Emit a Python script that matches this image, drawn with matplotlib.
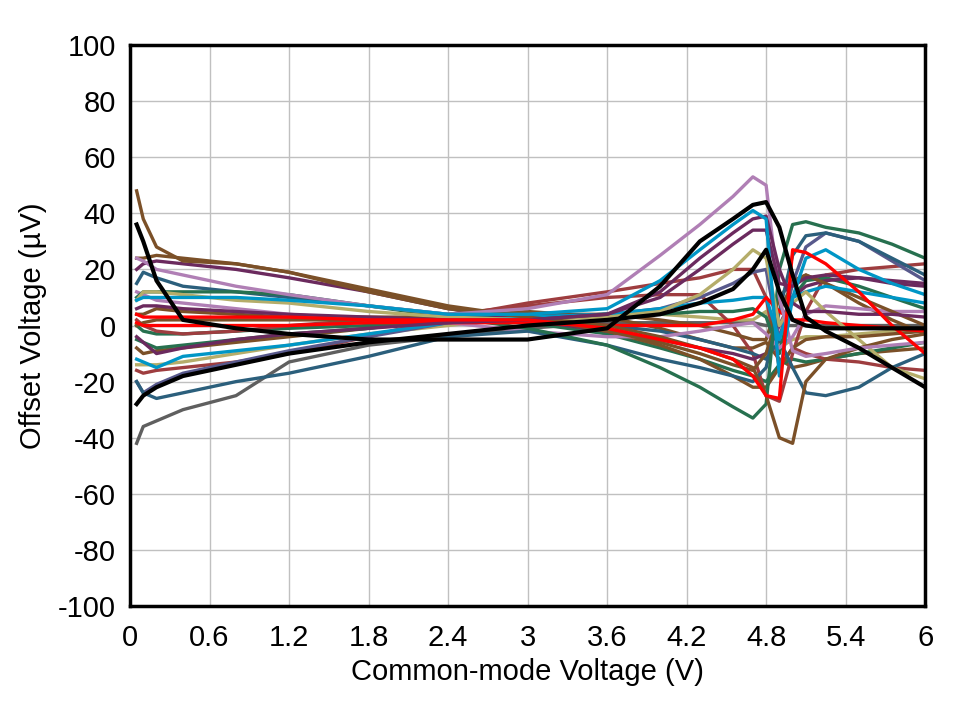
import matplotlib.pyplot as plt

plt.rcParams['font.family'] = ['Liberation Sans', 'DejaVu Sans']
plt.rcParams['axes.unicode_minus'] = False

# common-mode voltage sample points (V)
vcm = [0.05, 0.1, 0.2, 0.4, 0.8, 1.2, 1.8, 2.4, 3.0, 3.6, 4.0, 4.3, 4.55, 4.7, 4.8, 4.9, 5.0, 5.1, 5.25, 5.5, 5.75, 6.0]

# offset voltage curves (uV)
pink_a   = [24, 23, 20, 18, 14, 11, 7, 4, 6, 11, 25, 36, 46, 53, 50, 10, -9, -11, -10, -8, -7, -6]
pink_b   = [12, 11, 9, 8, 6, 4, 2, 1, -2, -4, -4, -2, 0, 1, -3, -8, -4, 4, 7, 6, 5, 5]
purple_a = [20, 22, 23, 22, 20, 17, 12, 6, 2, -2, -5, -8, -10, -12, -10, 0, 10, 14, 16, 17, 16, 15]
purple_b = [-4, -6, -10, -8, -5, -3, -1, 1, 2, 4, 12, 24, 33, 38, 39, 20, 8, 5, 5, 4, 4, 3]
purple_c = [6, 7, 7, 6, 5, 4, 3, 2, 2, 4, 10, 20, 29, 34, 34, 15, 14, 17, 18, 17, 15, 14]
blue_a   = [9, 10, 10, 10, 10, 9, 7, 4, 4, 6, 16, 27, 36, 41, 38, -18, 10, 24, 27, 20, 15, 11]
blue_b   = [-12, -13, -15, -11, -9, -7, -3, 1, 3, 4, 6, 8, 9, 10, 10, -5, 10, 12, 14, 12, 10, 8]
teal_a   = [-20, -24, -26, -24, -20, -17, -11, -4, -2, -7, -12, -15, -18, -20, -15, 5, 25, 32, 33, 30, 24, 18]
teal_b   = [15, 19, 17, 14, 12, 10, 7, 4, 2, 0, -2, -5, -8, -10, -12, -5, -15, -24, -25, -22, -15, -10]
green_a  = [10, 12, 12, 12, 12, 11, 7, 3, -1, -7, -15, -22, -29, -33, -28, 20, 36, 37, 35, 33, 29, 24]
green_b  = [-5, -6, -8, -7, -5, -3, -1, 2, 3, 4, 4, 5, 5, 6, 3, -10, 10, 16, 17, 14, 10, 6]
green_c  = [0, -2, -3, -3, -2, -1, 0, 2, 1, -3, -8, -12, -16, -18, -20, -14, -12, -13, -12, -10, -8, -6]
brown_a  = [48, 38, 28, 23, 22, 19, 12, 6, 3, 0, -4, -8, -12, -15, -25, -40, -42, -20, -12, -8, -5, -3]
brown_b  = [24, 24, 25, 24, 22, 19, 13, 7, 3, -2, -6, -10, -14, -16, -10, 5, 15, 18, 15, 10, 5, 0]
brown_c  = [4, 4, 6, 5, 4, 3, 3, 3, 2, -2, -7, -12, -18, -22, -22, -15, -8, -5, -4, -4, -3, -2]
brown_d  = [-8, -10, -9, -8, -6, -4, -1, 3, 5, 3, -1, -5, -8, -8, -6, -12, -15, -14, -12, -10, -9, -8]
brown_e  = [0, 1, 2, 2, 2, 2, 2, 3, 4, 4, 2, 0, -3, -5, -5, 10, 16, 18, 15, 8, 2, -3]
maroon_a = [-16, -17, -16, -15, -13, -10, -4, 3, 8, 12, 15, 17, 20, 20, 10, -15, -8, -10, -12, -13, -15, -16]
maroon_b = [2, 0, -2, -3, -2, 0, 2, 4, 7, 10, 11, 11, 0, -10, -25, -27, -10, 5, 18, 20, 21, 22]
red_a    = [4, 3, 3, 3, 3, 3, 2, 2, 2, -1, -5, -8, -12, -18, -25, -26, 27, 26, 22, 12, 0, -10]
red_b    = [1, 0, 0, 0, 0, 0, 1, 1, 1, 0, 0, 0, 2, 4, 10, 5, 2, 2, 1, 0, -1, -2]
olive_a  = [9, 12, 12, 11, 9, 8, 5, 3, 2, 3, 5, 11, 20, 27, 24, 0, 8, 12, 5, -5, -15, -19]
olive_b  = [-14, -14, -14, -13, -10, -7, -3, 0, 3, 4, 4, 3, 2, 2, 5, -8, -5, -4, -4, -3, -2, -1]
gray_a   = [-42, -36, -34, -30, -25, -13, -7, -4, -1, 1, 1, 1, 1, 1, 0, 0, 0, 0, 0, 0, 0, 0]
slate_a  = [-20, -24, -21, -17, -13, -9, -4, 1, 3, 4, 6, 10, 15, 19, 20, -5, 15, 28, 33, 30, 23, 16]
black_b  = [-28, -25, -22, -18, -14, -10, -6, -3, 0, 2, 4, 8, 13, 20, 27, 12, 2, 0, -1, -1, -1, -1]
black_a  = [36, 30, 16, 2, -1, -3, -5, -5, -5, -1, 14, 30, 38, 43, 44, 35, 18, 3, -2, -8, -15, -22]

curves = [
    (gray_a, '#5f5f5f'), (olive_b, '#b5ad6a'), (brown_d, '#7b5028'), (green_c, '#27704f'),
    (maroon_a, '#9e3d3f'), (maroon_b, '#9e3d3f'), (brown_c, '#7b5028'), (brown_e, '#7b5028'),
    (teal_b, '#2b5f7c'), (green_b, '#27704f'), (pink_b, '#b07fb5'), (purple_a, '#6b2a5e'),
    (brown_b, '#7b5028'), (slate_a, '#58598c'), (teal_a, '#2b5f7c'), (green_a, '#27704f'),
    (blue_b, '#0096c6'), (red_b, '#ff0000'), (olive_a, '#b5ad6a'), (brown_a, '#7b5028'),
    (pink_a, '#b07fb5'), (purple_c, '#6b2a5e'), (purple_b, '#6b2a5e'), (blue_a, '#0096c6'),
    (red_a, '#ff0000'), (black_b, '#000000'), (black_a, '#000000'),
]

fig = plt.figure(figsize=(9.58, 7.01), dpi=100)
ax = fig.add_axes([0.1357, 0.1355, 0.83, 0.8003])

for vals, col in curves:
    lw = 3.0 if col == '#000000' else 2.4
    ax.plot(vcm, vals, color=col, linewidth=lw)

ax.set_xlim(0, 6)
ax.set_ylim(-100, 100)
ax.set_xticks([0, 0.6, 1.2, 1.8, 2.4, 3, 3.6, 4.2, 4.8, 5.4, 6])
ax.set_xticklabels(['0', '0.6', '1.2', '1.8', '2.4', '3', '3.6', '4.2', '4.8', '5.4', '6'])
ax.set_yticks(range(-100, 101, 20))
ax.grid(True, color='#c0c0c0', linewidth=1)
ax.set_axisbelow(True)
ax.tick_params(axis='x', length=0, labelsize=21, pad=13)
ax.tick_params(axis='y', length=0, labelsize=21, pad=10)
for s in ax.spines.values():
    s.set_linewidth(2.5)
    s.set_color('black')

ax.set_xlabel('Common-mode Voltage (V)', fontsize=21, labelpad=4)
ax.set_ylabel('Offset Voltage (µV)', fontsize=21, labelpad=8)

fig.savefig('out.png', dpi=100)
